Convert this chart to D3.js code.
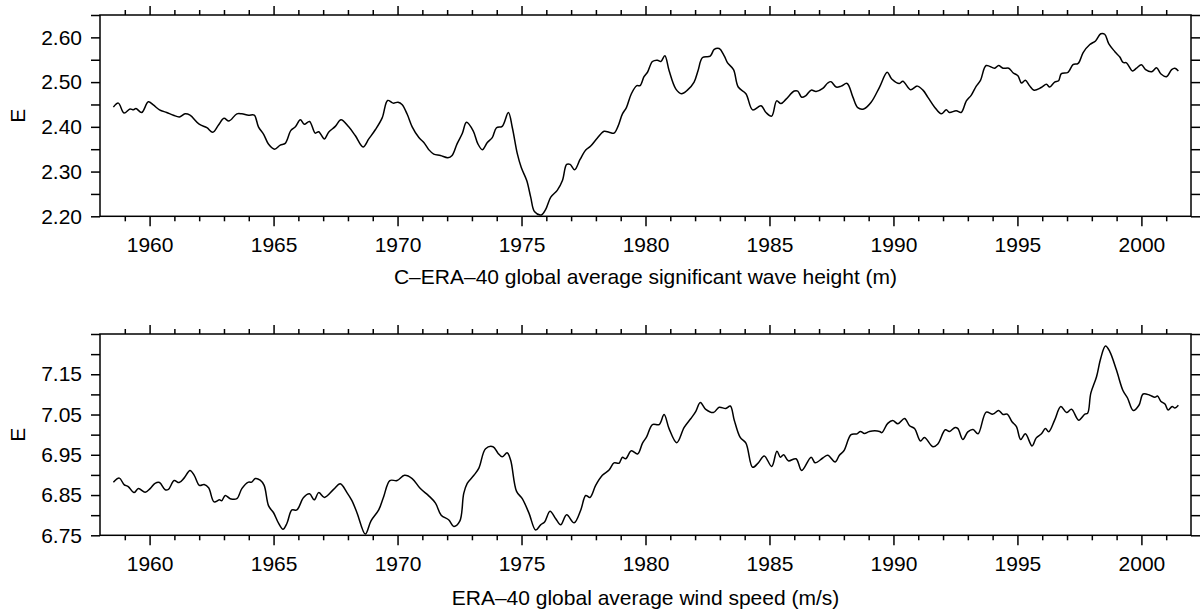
<!DOCTYPE html>
<html>
<head>
<meta charset="utf-8">
<script src="https://cdn.jsdelivr.net/npm/d3@7"></script>
<style>
  html, body { margin: 0; padding: 0; background: #fff; }
  svg text { font-family: "Liberation Sans", Arial, Helvetica, sans-serif; fill: #000; }
</style>
</head>
<body>
<svg id="chart" width="1200" height="613"></svg>
<script>
// C-ERA-40 global average significant wave height (m), 12-month running mean
const waveYears = [1958.54,1958.74,1958.97,1959.21,1959.35,1959.45,1959.68,1959.95,1960.15,1960.40,1960.69,1960.96,1961.20,1961.43,1961.63,1962.00,1962.31,1962.55,1962.78,1963.00,1963.20,1963.52,1963.72,1963.99,1964.22,1964.39,1964.60,1964.80,1965.04,1965.27,1965.47,1965.70,1965.88,1966.08,1966.24,1966.45,1966.68,1966.82,1967.05,1967.22,1967.49,1967.72,1968.03,1968.30,1968.61,1968.84,1969.11,1969.38,1969.60,1969.82,1970.02,1970.18,1970.39,1970.59,1970.86,1971.06,1971.26,1971.46,1971.73,1972.03,1972.20,1972.40,1972.61,1972.78,1973.05,1973.24,1973.42,1973.62,1973.82,1973.99,1974.22,1974.47,1974.63,1974.83,1974.99,1975.21,1975.37,1975.53,1975.80,1975.97,1976.18,1976.44,1976.65,1976.82,1976.96,1977.14,1977.36,1977.59,1977.79,1978.06,1978.33,1978.53,1978.73,1978.89,1979.07,1979.23,1979.43,1979.65,1979.78,1979.94,1980.08,1980.28,1980.48,1980.62,1980.78,1980.95,1981.22,1981.45,1981.69,1981.96,1982.12,1982.30,1982.61,1982.77,1982.97,1983.18,1983.31,1983.55,1983.74,1984.05,1984.32,1984.66,1984.86,1985.09,1985.29,1985.46,1985.67,1986.00,1986.14,1986.30,1986.47,1986.68,1986.88,1987.15,1987.35,1987.48,1987.69,1987.89,1988.13,1988.36,1988.56,1988.80,1989.10,1989.44,1989.75,1989.93,1990.24,1990.38,1990.69,1990.96,1991.19,1991.39,1991.66,1991.93,1992.13,1992.26,1992.53,1992.73,1992.94,1993.14,1993.34,1993.51,1993.74,1994.08,1994.24,1994.42,1994.65,1994.82,1995.02,1995.16,1995.32,1995.49,1995.67,1995.96,1996.17,1996.30,1996.50,1996.66,1996.77,1997.04,1997.24,1997.45,1997.65,1997.92,1998.15,1998.36,1998.52,1998.68,1998.93,1999.13,1999.26,1999.40,1999.64,1999.80,2000.00,2000.17,2000.41,2000.61,2000.79,2001.01,2001.22,2001.35,2001.49];
const waveHs = [2.444,2.453,2.431,2.440,2.438,2.441,2.432,2.456,2.449,2.438,2.432,2.426,2.422,2.429,2.426,2.406,2.398,2.388,2.404,2.419,2.413,2.429,2.429,2.426,2.426,2.400,2.383,2.361,2.350,2.359,2.363,2.392,2.400,2.416,2.406,2.412,2.386,2.389,2.373,2.388,2.401,2.416,2.400,2.380,2.355,2.373,2.394,2.420,2.459,2.453,2.455,2.450,2.428,2.400,2.376,2.365,2.349,2.339,2.336,2.331,2.336,2.362,2.385,2.410,2.391,2.362,2.349,2.365,2.376,2.398,2.401,2.432,2.398,2.340,2.309,2.280,2.243,2.210,2.203,2.215,2.243,2.258,2.280,2.316,2.316,2.304,2.327,2.348,2.357,2.375,2.390,2.388,2.386,2.401,2.429,2.443,2.474,2.492,2.492,2.512,2.522,2.546,2.549,2.546,2.559,2.526,2.485,2.474,2.482,2.500,2.526,2.555,2.558,2.573,2.575,2.558,2.543,2.528,2.489,2.474,2.438,2.447,2.432,2.424,2.458,2.452,2.462,2.480,2.480,2.466,2.470,2.482,2.479,2.486,2.498,2.501,2.489,2.491,2.497,2.467,2.443,2.440,2.455,2.489,2.522,2.507,2.497,2.502,2.483,2.491,2.482,2.466,2.444,2.429,2.438,2.432,2.436,2.432,2.458,2.471,2.491,2.504,2.537,2.531,2.537,2.531,2.531,2.521,2.514,2.498,2.504,2.492,2.482,2.488,2.495,2.489,2.500,2.503,2.519,2.522,2.539,2.542,2.566,2.584,2.592,2.608,2.607,2.586,2.568,2.556,2.544,2.543,2.525,2.531,2.539,2.528,2.523,2.532,2.518,2.512,2.528,2.531,2.525];

// ERA-40 global average wind speed (m/s), 12-month running mean
const windYears = [1958.54,1958.78,1958.97,1959.14,1959.37,1959.55,1959.82,1960.02,1960.22,1960.40,1960.63,1960.76,1960.99,1961.19,1961.39,1961.63,1961.80,1962.01,1962.20,1962.38,1962.60,1962.82,1962.91,1963.05,1963.25,1963.52,1963.72,1963.99,1964.12,1964.26,1964.46,1964.62,1964.80,1965.00,1965.20,1965.38,1965.54,1965.74,1965.94,1966.21,1966.45,1966.64,1966.82,1967.05,1967.42,1967.69,1967.96,1968.16,1968.37,1968.70,1968.93,1969.24,1969.44,1969.69,1969.98,1970.28,1970.59,1970.92,1971.26,1971.53,1971.76,1972.07,1972.27,1972.51,1972.67,1972.81,1973.08,1973.28,1973.55,1973.85,1974.05,1974.22,1974.42,1974.56,1974.80,1975.03,1975.30,1975.57,1975.77,1975.93,1976.15,1976.38,1976.58,1976.82,1977.12,1977.39,1977.59,1977.76,1977.99,1978.26,1978.53,1978.73,1978.93,1979.07,1979.20,1979.43,1979.68,1979.88,1980.05,1980.28,1980.55,1980.75,1980.95,1981.26,1981.56,1981.83,1982.03,1982.21,1982.43,1982.74,1982.97,1983.24,1983.42,1983.58,1983.82,1984.05,1984.32,1984.55,1984.79,1985.09,1985.30,1985.44,1985.57,1985.76,1986.07,1986.30,1986.68,1986.84,1987.15,1987.35,1987.65,1987.82,1988.00,1988.29,1988.53,1988.67,1988.83,1989.03,1989.44,1989.53,1989.77,1989.97,1990.18,1990.45,1990.65,1990.85,1991.09,1991.25,1991.59,1991.79,1992.09,1992.26,1992.49,1992.60,1992.80,1993.00,1993.21,1993.41,1993.74,1994.01,1994.24,1994.42,1994.59,1994.78,1994.96,1995.13,1995.32,1995.59,1995.76,1995.97,1996.13,1996.26,1996.50,1996.75,1996.98,1997.18,1997.47,1997.72,1997.83,1997.96,1998.19,1998.36,1998.55,1998.72,1998.99,1999.26,1999.44,1999.67,1999.90,2000.07,2000.34,2000.54,2000.65,2000.78,2000.95,2001.08,2001.24,2001.35,2001.49];
const windSpeed = [6.882,6.892,6.876,6.871,6.856,6.866,6.857,6.866,6.879,6.881,6.863,6.864,6.886,6.881,6.892,6.911,6.899,6.874,6.876,6.868,6.833,6.838,6.836,6.849,6.841,6.841,6.866,6.882,6.882,6.891,6.887,6.874,6.823,6.806,6.780,6.765,6.780,6.813,6.813,6.844,6.853,6.838,6.856,6.844,6.864,6.878,6.856,6.836,6.805,6.753,6.786,6.813,6.846,6.886,6.886,6.899,6.891,6.866,6.848,6.830,6.800,6.788,6.772,6.785,6.854,6.879,6.899,6.917,6.965,6.970,6.954,6.945,6.955,6.937,6.859,6.841,6.805,6.763,6.776,6.783,6.810,6.791,6.776,6.801,6.781,6.813,6.849,6.844,6.874,6.899,6.912,6.930,6.929,6.944,6.940,6.960,6.952,6.979,6.995,7.025,7.025,7.050,7.015,6.980,7.018,7.040,7.058,7.080,7.063,7.055,7.068,7.065,7.071,7.036,6.993,6.979,6.919,6.930,6.947,6.921,6.959,6.944,6.950,6.935,6.940,6.911,6.944,6.930,6.942,6.949,6.932,6.949,6.960,7.000,7.002,7.008,7.003,7.008,7.008,7.005,7.028,7.035,7.027,7.040,7.022,7.015,6.984,6.993,6.970,6.977,7.012,7.008,7.018,7.015,6.988,7.007,7.013,7.002,7.056,7.051,7.060,7.050,7.051,7.032,7.020,6.988,7.002,6.972,6.992,7.002,7.015,7.007,7.036,7.070,7.055,7.063,7.036,7.051,7.053,7.103,7.144,7.190,7.220,7.207,7.161,7.109,7.091,7.060,7.073,7.101,7.098,7.093,7.096,7.083,7.076,7.061,7.070,7.066,7.073];

const waveTicks = [2.20, 2.30, 2.40, 2.50, 2.60];
const windTicks = [6.75, 6.85, 6.95, 7.05, 7.15];
const yearTicks = [1960, 1965, 1970, 1975, 1980, 1985, 1990, 1995, 2000];

const svg = d3.select("#chart");
const fs = 21;

const x = d3.scaleLinear().domain([1958, 2002]).range([100, 1191]);
const minorYears = d3.range(1959, 2002, 1).filter(d => d % 5 !== 0);

function drawPanel(opt) {
    const y = d3.scaleLinear().domain(opt.domain).range([opt.bottom, opt.top]);
    const g = svg.append("g");
    const step = 0.05;
    const allY = d3.range(Math.round((opt.domain[1] - opt.domain[0]) / step) + 1)
        .map(i => +(opt.domain[0] + i * step).toFixed(3));

    // left axis, labels on majors
    g.append("g").attr("transform", `translate(${x.range()[0]},0)`)
        .call(d3.axisLeft(y).tickValues(allY).tickSize(9).tickSizeOuter(0).tickPadding(9)
            .tickFormat(d => opt.majors.some(m => Math.abs(m - d) < 1e-6) ? d3.format(".2f")(d) : ""));
    // right axis ticks
    g.append("g").attr("transform", `translate(${x.range()[1]},0)`)
        .call(d3.axisRight(y).tickValues(allY).tickSize(9).tickSizeOuter(0).tickFormat(""));
    // bottom axis
    g.append("g").attr("transform", `translate(0,${opt.bottom})`)
        .call(d3.axisBottom(x).tickValues(yearTicks).tickSize(10).tickSizeOuter(0).tickPadding(11).tickFormat(d3.format("d")));
    g.append("g").attr("transform", `translate(0,${opt.bottom})`)
        .call(d3.axisBottom(x).tickValues(minorYears).tickSize(5).tickSizeOuter(0).tickFormat(""));
    // top axis
    g.append("g").attr("transform", `translate(0,${opt.top})`)
        .call(d3.axisTop(x).tickValues(yearTicks).tickSize(9).tickSizeOuter(0).tickFormat(""));
    g.append("g").attr("transform", `translate(0,${opt.top})`)
        .call(d3.axisTop(x).tickValues(minorYears).tickSize(5).tickSizeOuter(0).tickFormat(""));

    g.selectAll(".domain").remove();
    g.selectAll(".tick line").attr("stroke", "#000").attr("stroke-width", 1.5);
    g.selectAll(".tick text").attr("font-size", fs).attr("font-family", "Liberation Sans, Arial, sans-serif").attr("fill", "#000");

    // frame
    g.append("rect")
        .attr("x", x.range()[0]).attr("y", opt.top)
        .attr("width", x.range()[1] - x.range()[0]).attr("height", opt.bottom - opt.top)
        .attr("fill", "none").attr("stroke", "#000").attr("stroke-width", 1.5);

    const line = d3.line().x(d => x(d[0])).y(d => y(d[1])).curve(d3.curveCatmullRom.alpha(0.5));
    g.append("path")
        .datum(d3.zip(opt.years, opt.values))
        .attr("d", line)
        .attr("fill", "none").attr("stroke", "#000").attr("stroke-width", 1.5).attr("stroke-linejoin", "round");

    // y label
    const cy = (opt.top + opt.bottom) / 2;
    g.append("text").attr("transform", `translate(25,${cy}) rotate(-90)`)
        .attr("text-anchor", "middle").attr("font-size", fs).text("E");

    // title
    g.append("text").attr("x", (x.range()[0] + x.range()[1]) / 2).attr("y", opt.titleY)
        .attr("text-anchor", "middle").attr("font-size", fs).text(opt.title);
}

drawPanel({
    domain: [2.20, 2.65], top: 15, bottom: 216.3, majors: waveTicks,
    years: waveYears, values: waveHs, titleY: 284,
    title: "C\u2013ERA\u201340 global average significant wave height (m)"
});

drawPanel({
    domain: [6.75, 7.25], top: 334, bottom: 535.3, majors: windTicks,
    years: windYears, values: windSpeed, titleY: 605,
    title: "ERA\u201340 global average wind speed (m/s)"
});
</script>
</body>
</html>
